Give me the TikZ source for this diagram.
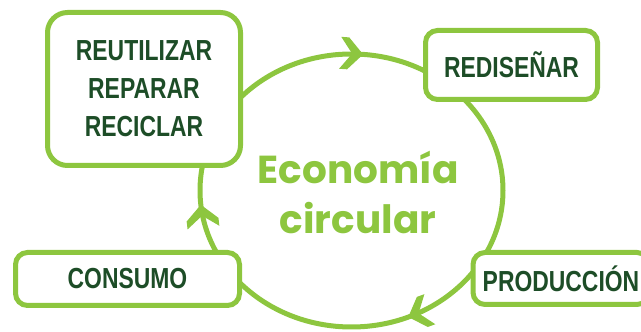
\documentclass[tikz,border=0pt]{standalone}
\usepackage{fontspec, xcolor}
\usetikzlibrary{calc}
\newfontfamily\cajafont[FakeStretch=0.79]{Liberation Sans}
\newfontfamily\ecofont{Poppins}
\definecolor{verde}{HTML}{8DC63F}
\definecolor{verdeosc}{HTML}{1D4D27}

\begin{document}
\begin{tikzpicture}[x=1pt, y=1pt,
    caja/.style={draw=verde, line width=5pt, fill=white, rounded corners=12pt, text=verdeosc, align=center, font=\cajafont\bfseries\fontsize{29}{38}\selectfont},
    flecha/.pic={\fill [verde] (0,0) -- (-15,16) -- (-23,16) -- (-11,0) -- (-23,-16) -- (-15,-16) -- cycle;}]
    \useasboundingbox (0,0) rectangle (641,332);
    \coordinate (C) at (351.5,141.5);
    \draw [verde, line width=5pt] (C) ellipse [x radius=151.5, y radius=136.5];
    \pic [rotate=-4] at ($(C)+(85.6:151.5 and 136.5)$) {flecha};
    \pic [rotate=96.6] at ($(C)+(186:151.5 and 136.5)$) {flecha};
    \pic [rotate=200] at ($(C)+(-68:151.5 and 136.5)$) {flecha};
    \node [caja, rounded corners=20pt, minimum width=193pt, minimum height=153pt] (reusar) at (144,243) {REUTILIZAR\\REPARAR\\RECICLAR};
    \node [caja, minimum width=172pt, minimum height=69pt] (redisenar) at (511.5,267) {REDISEÑAR};
    \node [caja, minimum width=224pt, minimum height=53pt] (consumo) at (127.5,53) {CONSUMO};
    \node [caja, anchor=west, minimum width=176pt, minimum height=52pt] (produccion) at (470.5,53.5) {PRODUCCIÓN};
    \node [text=verde, align=center, font=\ecofont\bfseries\fontsize{39}{50}\selectfont] (titulo) at (358,140) {Economía\\circular};
\end{tikzpicture}
\end{document}
